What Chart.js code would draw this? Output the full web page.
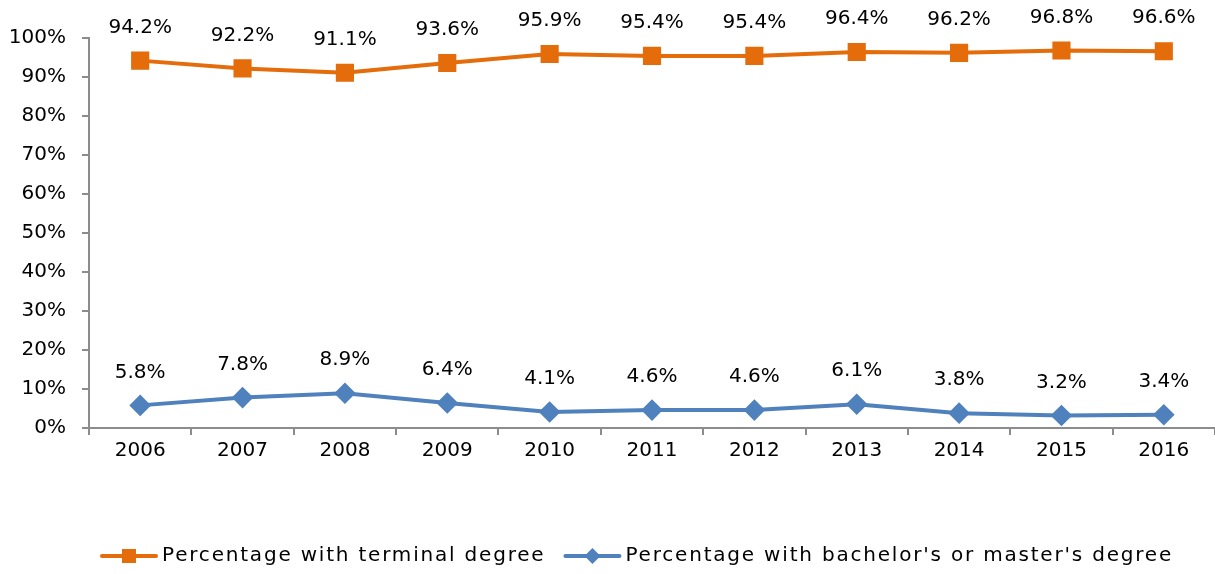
<!DOCTYPE html>
<html>
<head>
<meta charset="utf-8">
<script src="https://cdn.jsdelivr.net/npm/chart.js@4/dist/chart.umd.min.js"></script>
<style>
  html, body { margin: 0; padding: 0; background: #fff; overflow: hidden; }
  #wrap { width: 1215px; height: 574px; }
</style>
</head>
<body>
<div id="wrap"><canvas id="degreeChart"></canvas></div>
<script>
const years = ["2006", "2007", "2008", "2009", "2010", "2011", "2012", "2013", "2014", "2015", "2016"];
const terminalPct = [94.2, 92.2, 91.1, 93.6, 95.9, 95.4, 95.4, 96.4, 96.2, 96.8, 96.6];
const bachelorMasterPct = [5.8, 7.8, 8.9, 6.4, 4.1, 4.6, 4.6, 6.1, 3.8, 3.2, 3.4];

const orange = "#E46C0A";
const blue = "#4F81BD";
const axisGray = "#8C8C8C";
const fontFamily = "'DejaVu Sans', sans-serif";

// value labels above each point
const pointLabels = {
  id: "pointLabels",
  afterDatasetsDraw(chart) {
    const ctx = chart.ctx;
    ctx.save();
    ctx.font = "20px " + fontFamily;
    ctx.fillStyle = "#000";
    ctx.textAlign = "center";
    ctx.textBaseline = "middle";
    chart.data.datasets.forEach((ds, i) => {
      chart.getDatasetMeta(i).data.forEach((pt, j) => {
        ctx.fillText(ds.data[j].toFixed(1) + "%", pt.x, pt.y - 33);
      });
    });
    ctx.restore();
  }
};

// bottom legend: line sample with marker, then the label
const lineLegend = {
  id: "lineLegend",
  afterDraw(chart) {
    const ctx = chart.ctx;
    const y = 556;
    let x = 100;
    ctx.save();
    ctx.font = "20px " + fontFamily;
    ctx.letterSpacing = "1.8px";
    ctx.textBaseline = "middle";
    chart.data.datasets.forEach((ds) => {
      ctx.strokeStyle = ds.borderColor;
      ctx.fillStyle = ds.borderColor;
      ctx.lineWidth = 4;
      ctx.lineCap = "round";
      ctx.beginPath();
      ctx.moveTo(x + 2, y);
      ctx.lineTo(x + 56, y);
      ctx.stroke();
      const cx = x + 29;
      if (ds.pointStyle === "rect") {
        ctx.fillRect(cx - 7, y - 7, 14, 14);
      } else {
        ctx.beginPath();
        ctx.moveTo(cx, y - 8);
        ctx.lineTo(cx + 8, y);
        ctx.lineTo(cx, y + 8);
        ctx.lineTo(cx - 8, y);
        ctx.closePath();
        ctx.fill();
      }
      ctx.fillStyle = "#000";
      ctx.fillText(ds.label, x + 62, y);
      x += 62 + ctx.measureText(ds.label).width + 18;
    });
    ctx.restore();
  }
};

const ctxDegree = document.getElementById("degreeChart").getContext("2d");
const degreeChart = new Chart(ctxDegree, {
  type: "line",
  data: {
    labels: years,
    datasets: [
      {
        label: "Percentage with terminal degree",
        data: terminalPct,
        borderColor: orange,
        backgroundColor: orange,
        borderWidth: 4,
        pointStyle: "rect",
        pointRadius: 10,
        pointHoverRadius: 10,
      },
      {
        label: "Percentage with bachelor's or master's degree",
        data: bachelorMasterPct,
        borderColor: blue,
        backgroundColor: blue,
        borderWidth: 4,
        pointStyle: "rectRot",
        pointRadius: 8,
        pointHoverRadius: 8,
      },
    ],
  },
  options: {
    responsive: true,
    maintainAspectRatio: false,
    animation: false,
    layout: { autoPadding: false, padding: { top: 38, right: 0, left: 8, bottom: 0 } },
    plugins: {
      tooltip: { enabled: false },
      legend: { display: false },
    },
    scales: {
      x: {
        offset: true,
        grid: { display: true, drawOnChartArea: false, offset: true, tickLength: 7, color: axisGray, lineWidth: 2 },
        border: { display: true, color: axisGray, width: 2 },
        ticks: { color: "#000", font: { family: fontFamily, size: 20 }, padding: 4, maxRotation: 0 },
        afterFit(scale) {
          scale.height += 107;
          scale.paddingLeft = 0;
          scale.paddingRight = 0;
        },
      },
      y: {
        min: 0,
        max: 100,
        grid: { display: true, drawOnChartArea: false, tickLength: 7, color: axisGray, lineWidth: 2 },
        border: { display: true, color: axisGray, width: 2 },
        ticks: {
          stepSize: 10,
          color: "#000",
          font: { family: fontFamily, size: 20 },
          padding: 16,
          callback: (v) => v + "%",
        },
        afterFit(scale) { scale.width = 81; },
      },
    },
  },
  plugins: [pointLabels, lineLegend],
});
</script>
</body>
</html>
